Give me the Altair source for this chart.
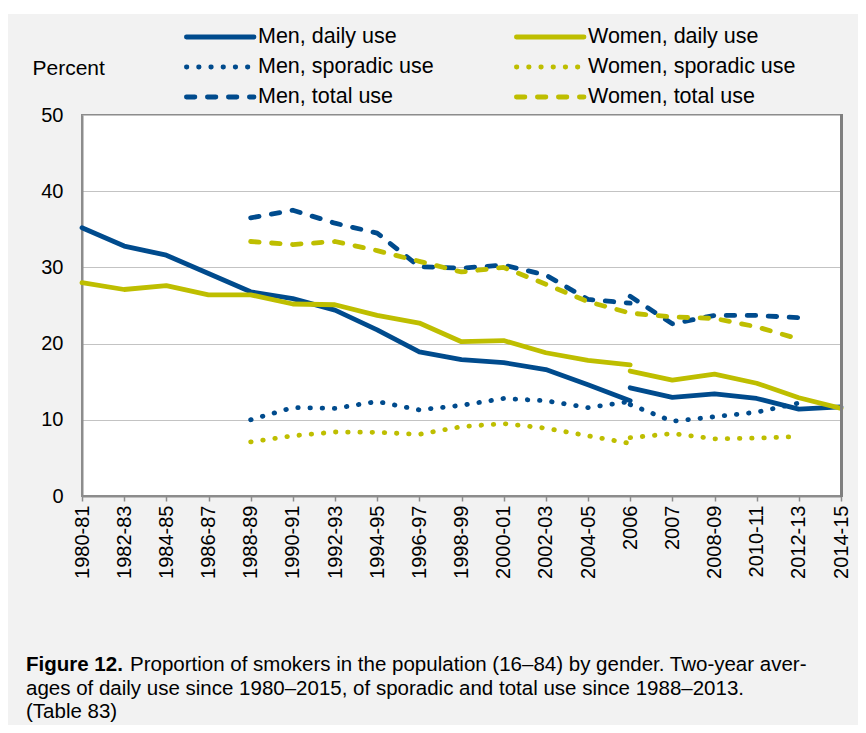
import altair as alt
import pandas as pd

# ---------------- data ----------------
periods = ["1980-81", "1982-83", "1984-85", "1986-87", "1988-89", "1990-91",
           "1992-93", "1994-95", "1996-97", "1998-99", "2000-01", "2002-03",
           "2004-05", "2006", "2007", "2008-09", "2010-11", "2012-13", "2014-15"]

# daily use: 1980-81 .. 2006 (old method), 2006 .. 2014-15 (new method)
men_daily_a = [35.2, 32.8, 31.6, 29.2, 26.8, 25.9, 24.4, 21.8, 18.9, 17.9, 17.5, 16.6, 14.6, 12.5]
men_daily_b = [14.2, 12.95, 13.4, 12.8, 11.4, 11.7]
women_daily_a = [28.0, 27.1, 27.6, 26.4, 26.4, 25.2, 25.1, 23.7, 22.7, 20.25, 20.4, 18.8, 17.8, 17.2]
women_daily_b = [16.4, 15.2, 16.0, 14.8, 12.9, 11.5]

# sporadic use: 1988-89 .. 2006, 2006 .. 2012-13
men_sporadic_a = [10.0, 11.6, 11.5, 12.4, 11.3, 11.9, 12.8, 12.5, 11.6, 12.4]
men_sporadic_b = [12.0, 9.8, 10.4, 11.0, 12.2]
women_sporadic_a = [7.1, 7.9, 8.4, 8.35, 8.1, 9.1, 9.5, 8.9, 7.9, 6.9]
women_sporadic_b = [7.65, 8.2, 7.5, 7.6, 7.8]

# total use: 1988-89 .. 2012-13
men_total_a = [36.5, 37.5, 35.8, 34.5, 30.1, 29.9, 30.3, 29.0, 25.8, 25.3]
men_total_b = [26.2, 22.6, 23.7, 23.7, 23.4]
women_total = [33.4, 33.0, 33.4, 32.2, 30.8, 29.4, 30.0, 27.8, 25.5, 24.0, 23.5, 23.3, 22.2, 20.6]

caption_bold = "Figure 12."
caption_line1 = "Proportion of smokers in the population (16\u201384) by gender. Two-year aver-"
caption_line2 = "ages of daily use since 1980\u20132015, of sporadic and total use since 1988\u20132013."
caption_line3 = "(Table 83)"

BLUE = "#004B8D"
YELLOW = "#BEBE00"
FONT = "Liberation Sans, Arial, sans-serif"

i0 = periods.index("1980-81")
i88 = periods.index("1988-89")
i06 = periods.index("2006")

series = [
    ("Men, daily use", BLUE, "solid", [(i0, men_daily_a), (i06, men_daily_b)]),
    ("Men, sporadic use", BLUE, "dotted", [(i88, men_sporadic_a), (i06, men_sporadic_b)]),
    ("Men, total use", BLUE, "dashed", [(i88, men_total_a), (i06, men_total_b)]),
    ("Women, daily use", YELLOW, "solid", [(i0, women_daily_a), (i06, women_daily_b)]),
    ("Women, sporadic use", YELLOW, "dotted", [(i88, women_sporadic_a), (i06, women_sporadic_b)]),
    ("Women, total use", YELLOW, "dashed", [(i88, women_total)]),
]

rows = []
for name, color, style, segs in series:
    for k, (start, vals) in enumerate(segs):
        for j, v in enumerate(vals):
            rows.append({"series": name, "seg": f"{name}-{k}", "period": periods[start + j],
                         "order": start + j, "value": v})
df = pd.DataFrame(rows)

LW = 4.8
DASHES = {"solid": None, "dotted": [0.5, 11.7], "dashed": [8.5, 12.5]}

W, H = 759, 381
PAD_L, PAD_T = 74, 107
TOTAL_W, TOTAL_H = 850, 717

x_enc = alt.X("period:O", scale=alt.Scale(domain=periods, padding=0),
              axis=alt.Axis(title=None, labelAngle=270, labelFontSize=20, labelFont=FONT,
                            labelColor="#000000", tickSize=5, tickColor="#8c8c8c", tickWidth=1.5,
                            labelPadding=4, domainColor="#8c8c8c", domainWidth=2, grid=False,
                            labelOverlap=False))
y_enc = alt.Y("value:Q", scale=alt.Scale(domain=[0, 50], nice=False),
              axis=alt.Axis(values=[0, 10, 20, 30, 40, 50], grid=True, gridColor="#c3c3c3",
                            gridWidth=1.2, ticks=False, labelFontSize=20, labelFont=FONT,
                            labelColor="#000000", labelPadding=19, domainColor="#8c8c8c",
                            domainWidth=2, title="Percent", titleAngle=0, titleX=-50, titleY=-47,
                            titleAlign="left", titleBaseline="middle", titleFontSize=21,
                            titleFont=FONT, titleFontWeight="normal", titleColor="#000000"))

dummy = pd.DataFrame({"a": [0]})
layers = []

# white strip at the very top of the figure
layers.append(alt.Chart(dummy).mark_rect(color="#ffffff").encode(
    x=alt.value(-PAD_L), x2=alt.value(TOTAL_W - PAD_L),
    y=alt.value(-PAD_T), y2=alt.value(-PAD_T + 6)))

for name, color, style, segs in series:
    mk = dict(color=color, strokeWidth=LW, strokeCap="round", strokeJoin="round")
    if DASHES[style] is not None:
        mk["strokeDash"] = DASHES[style]
    layers.append(
        alt.Chart(df).transform_filter(alt.datum.series == name)
        .mark_line(**mk)
        .encode(x=x_enc, y=y_enc, detail="seg:N", order="order:Q")
    )

# darker right border of the plot area
layers.append(alt.Chart(dummy).mark_rule(color="#7f7f7f", strokeWidth=3).encode(
    x=alt.value(W + 0.5), y=alt.value(-1), y2=alt.value(H + 1)))

# ---------------- legend (2 columns x 3 rows) ----------------
legend_order = ["Men, daily use", "Women, daily use", "Men, sporadic use",
                "Women, sporadic use", "Men, total use", "Women, total use"]
style_of = {s[0]: (s[1], s[2]) for s in series}
col_x = [102, 432]
row_y = [-78, -48, -18]
for i, name in enumerate(legend_order):
    color, style = style_of[name]
    cx = col_x[i % 2]
    ry = row_y[i // 2]
    mk = dict(color=color, strokeWidth=LW, strokeCap="round")
    if DASHES[style] is not None:
        mk["strokeDash"] = DASHES[style]
    layers.append(alt.Chart(dummy).mark_rule(**mk).encode(
        x=alt.value(cx + 2.4), x2=alt.value(cx + 70), y=alt.value(ry)))
    layers.append(alt.Chart(dummy).mark_text(
        text=name, align="left", baseline="middle", fontSize=21.5, font=FONT, color="#000000"
    ).encode(x=alt.value(cx + 74), y=alt.value(ry)))

# ---------------- caption ----------------
cap_x = -56
CAP_FS = 20.5
layers.append(alt.Chart(dummy).mark_text(
    text=caption_bold, align="left", baseline="middle", fontSize=CAP_FS, font=FONT,
    fontWeight="bold", color="#000000").encode(x=alt.value(cap_x), y=alt.value(550)))
layers.append(alt.Chart(dummy).mark_text(
    text=caption_line1, align="left", baseline="middle", fontSize=CAP_FS, font=FONT,
    color="#000000").encode(x=alt.value(cap_x + 104), y=alt.value(550)))
layers.append(alt.Chart(dummy).mark_text(
    text=caption_line2, align="left", baseline="middle", fontSize=CAP_FS, font=FONT,
    color="#000000").encode(x=alt.value(cap_x), y=alt.value(573.5)))
layers.append(alt.Chart(dummy).mark_text(
    text=caption_line3, align="left", baseline="middle", fontSize=CAP_FS, font=FONT,
    color="#000000").encode(x=alt.value(cap_x), y=alt.value(597)))

chart = alt.layer(*layers).properties(
    width=W, height=H,
    autosize=alt.AutoSizeParams(type="none"),
    padding={"left": PAD_L, "top": PAD_T, "right": TOTAL_W - PAD_L - W,
             "bottom": TOTAL_H - PAD_T - H},
    background="#f2f2f2",
).configure_view(fill="#ffffff", stroke="#8c8c8c", strokeWidth=2)

chart.save("out.html", embed_options={"renderer": "svg", "actions": False})
